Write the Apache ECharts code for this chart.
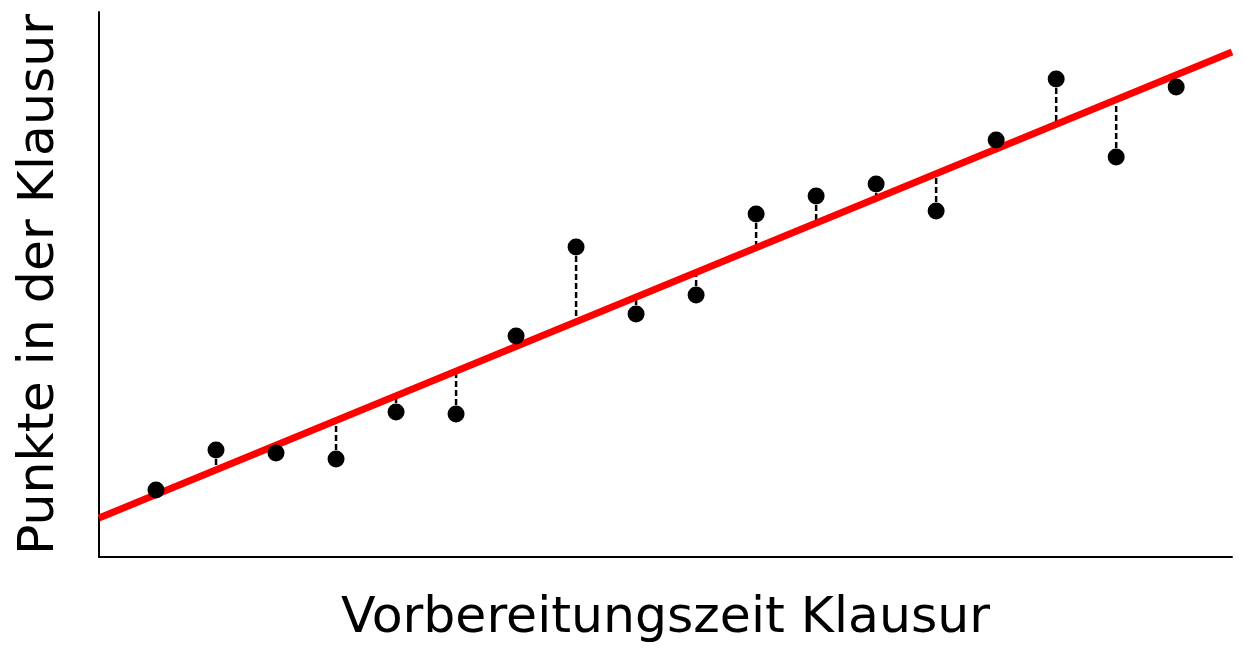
<!DOCTYPE html>
<html>
<head>
<meta charset="utf-8">
<script src="https://cdn.jsdelivr.net/npm/echarts@6/dist/echarts.min.js"></script>
<style>
	html, body { margin: 0; padding: 0; background: #fff; }
	#chart { width: 1245px; height: 657px; }
</style>
</head>
<body>
<div id="chart"></div>
<script>
// Vorbereitungszeit (x) und Punkte (y)
const studyTime = [1, 2, 3, 4, 5, 6, 7, 8, 9, 10, 11, 12, 13, 14, 15, 16, 17, 18]
const points = [6.7, 10.7, 10.4, 9.8, 14.5, 14.3, 22.1, 31.0, 24.3, 26.2, 34.3, 36.1, 37.3, 34.6, 41.7, 47.8, 40.0, 47.0]

// Regressionsgerade
const intercept = 3.78
const slope = 2.468
const xRange = [0.05, 18.93]
const yRange = [0, 54.5]

const fit = x => intercept + slope * x

const chart = echarts.init(document.getElementById("chart"))

// Residuen als gestrichelte Linien
const residualSeries = studyTime.map((x, i) => ({
	type: "line",
	data: [[x, points[i]], [x, fit(x)]],
	symbol: "none",
	silent: true,
	z: 1,
	lineStyle: {
		color: "#000",
		width: 2.5,
		type: [6, 3]
	}
}))

const option = {
	animation: false,
	grid: {
		left: 99,
		right: 13,
		top: 12,
		bottom: 100,
		outerBoundsMode: "none"
	},
	xAxis: {
		type: "value",
		min: xRange[0],
		max: xRange[1],
		name: "Vorbereitungszeit Klausur",
		nameLocation: "middle",
		nameGap: 36,
		nameTextStyle: {
			fontFamily: "DejaVu Sans",
			fontSize: 50.5,
			color: "#000"
		},
		axisLine: { lineStyle: { color: "#000", width: 2 } },
		axisTick: { show: false },
		axisLabel: { show: false },
		splitLine: { show: false }
	},
	yAxis: {
		type: "value",
		min: yRange[0],
		max: yRange[1],
		name: "Punkte in der Klausur",
		nameLocation: "middle",
		nameGap: 34,
		nameTextStyle: {
			fontFamily: "DejaVu Sans",
			fontSize: 50.5,
			color: "#000"
		},
		axisLine: { show: true, lineStyle: { color: "#000", width: 2 } },
		axisTick: { show: false },
		axisLabel: { show: false },
		splitLine: { show: false }
	},
	series: [
		...residualSeries,
		{
			type: "line",
			data: [[xRange[0], fit(xRange[0])], [xRange[1], fit(xRange[1])]],
			symbol: "none",
			z: 2,
			lineStyle: { color: "#ff0000", width: 7 }
		},
		{
			type: "scatter",
			data: studyTime.map((x, i) => [x, points[i]]),
			symbolSize: 17,
			z: 3,
			itemStyle: { color: "#000", opacity: 1 }
		}
	]
}

chart.setOption(option)
</script>
</body>
</html>
